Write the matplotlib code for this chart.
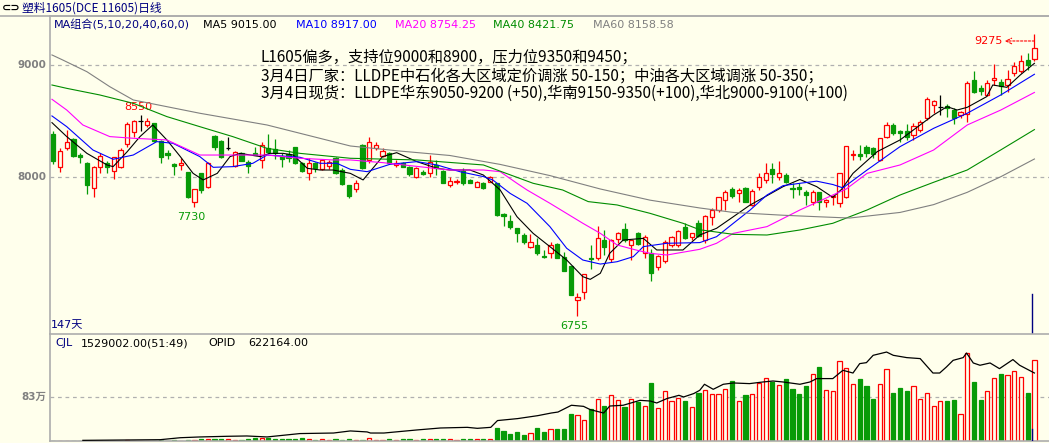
import numpy as np
import matplotlib.pyplot as plt
from matplotlib.lines import Line2D

plt.rcParams['font.family'] = ['DejaVu Sans', 'Noto Sans CJK SC']

# daily candles, oldest first
opens = [8383, 8090, 8260, 8338, 8195, 8126, 7899, 8090, 8126, 8048,
         8090, 8290, 8403, 8499, 8460, 8478, 8323, 8209, 8114, 8105,
         8039, 7771, 8030, 7908, 8365, 8320, 8254, 8099, 8209, 8132,
         8215, 8150, 8254, 8245, 8185, 8203, 8263, 8126, 8030, 8120,
         8066, 8096, 8165, 8060, 7923, 7890, 8284, 8150, 8260, 8186,
         8209, 8105, 8126, 8090, 7995, 8042, 8030, 8105, 8054, 7926,
         7950, 8051, 7971, 7911, 7947, 7956, 7941, 7663, 7603, 7538,
         7478, 7374, 7389, 7290, 7320, 7395, 7284, 7201, 6896, 6971,
         7275, 7269, 7433, 7263, 7439, 7532, 7389, 7493, 7320, 7314,
         7195, 7248, 7389, 7389, 7553, 7463, 7583, 7433, 7642, 7702,
         7791, 7887, 7851, 7896, 7747, 7911, 7970, 8069, 8001, 8015,
         7902, 7905, 7866, 7777, 7860, 7771, 7815, 7762, 7821, 8194,
         8203, 8269, 8254, 8150, 8359, 8463, 8412, 8412, 8374, 8418,
         8523, 8642, 8621, 8636, 8597, 8553, 8562, 8866, 8791, 8732,
         8866, 8851, 8821, 8926, 8949, 9045, 9051]
highs = [8412, 8260, 8418, 8345, 8215, 8135, 8096, 8209, 8144, 8180,
         8254, 8493, 8508, 8550, 8523, 8484, 8329, 8239, 8120, 8171,
         8039, 7890, 8036, 8135, 8374, 8329, 8359, 8230, 8224, 8150,
         8269, 8314, 8380, 8341, 8209, 8239, 8269, 8135, 8165, 8135,
         8159, 8150, 8174, 8075, 7930, 7971, 8290, 8359, 8314, 8254,
         8224, 8150, 8135, 8099, 8084, 8060, 8194, 8150, 8060, 8001,
         7980, 8081, 7977, 7962, 7953, 8007, 7947, 7672, 7657, 7545,
         7493, 7487, 7448, 7344, 7418, 7410, 7329, 7201, 6956, 7126,
         7389, 7559, 7523, 7442, 7508, 7589, 7433, 7508, 7478, 7350,
         7299, 7433, 7469, 7523, 7583, 7499, 7610, 7657, 7717, 7821,
         7881, 7911, 7896, 7905, 7890, 8030, 8120, 8120, 8141, 8030,
         7941, 7940, 7881, 7881, 7866, 7800, 7836, 8036, 8275, 8239,
         8284, 8284, 8269, 8344, 8493, 8478, 8418, 8469, 8478, 8508,
         8711, 8687, 8732, 8648, 8612, 8588, 8860, 8949, 8821, 8866,
         9009, 8872, 8955, 9030, 9090, 9105, 9275]
lows = [8114, 8039, 8239, 8180, 8126, 7845, 7816, 8036, 8030, 7977,
        8075, 8269, 8359, 8412, 8442, 8310, 8126, 8156, 8015, 8060,
        7810, 7730, 7854, 7900, 8239, 8165, 8239, 8090, 8144, 8030,
        8194, 8075, 8209, 8159, 8084, 8135, 8114, 8045, 7968, 8045,
        8060, 8072, 8024, 7926, 7809, 7866, 8072, 8120, 8239, 8180,
        8114, 8090, 8084, 8010, 7986, 8015, 8001, 8015, 7941, 7911,
        7935, 7926, 7941, 7905, 7890, 7950, 7650, 7559, 7529, 7418,
        7398, 7359, 7299, 7269, 7275, 7269, 7159, 6941, 6755, 6905,
        7171, 7254, 7299, 7233, 7404, 7418, 7254, 7389, 7269, 7069,
        7165, 7224, 7374, 7374, 7439, 7433, 7460, 7404, 7568, 7687,
        7702, 7807, 7777, 7770, 7740, 7881, 7941, 7941, 7971, 7941,
        7806, 7836, 7747, 7747, 7702, 7732, 7747, 7732, 7810, 8150,
        8150, 8180, 8165, 8144, 8344, 8374, 8314, 8329, 8329, 8403,
        8508, 8568, 8553, 8538, 8472, 8523, 8493, 8746, 8732, 8723,
        8821, 8732, 8761, 8902, 8931, 8955, 9039]
closes = [8144, 8230, 8311, 8189, 8174, 7926, 8087, 8186, 8084, 8174,
          8236, 8469, 8499, 8499, 8496, 8323, 8174, 8191, 8096, 8120,
          7821, 7887, 7881, 8126, 8269, 8180, 8254, 8224, 8144, 8096,
          8194, 8281, 8224, 8209, 8156, 8165, 8120, 8054, 8120, 8081,
          8150, 8132, 8030, 7932, 7830, 7947, 8081, 8314, 8281, 8233,
          8126, 8126, 8090, 8021, 8078, 8021, 8132, 8075, 7947, 7962,
          7959, 7947, 7947, 7956, 7896, 7995, 7657, 7648, 7553, 7493,
          7413, 7413, 7314, 7278, 7389, 7275, 7159, 6941, 6920, 7126,
          7260, 7448, 7368, 7433, 7493, 7433, 7433, 7395, 7463, 7135,
          7290, 7413, 7463, 7517, 7448, 7493, 7470, 7648, 7702, 7815,
          7866, 7830, 7881, 7777, 7875, 7999, 8030, 8021, 8036, 7956,
          7887, 7893, 7836, 7866, 7777, 7792, 7830, 8036, 8275, 8203,
          8188, 8215, 8203, 8344, 8463, 8394, 8394, 8359, 8454, 8487,
          8696, 8678, 8621, 8612, 8523, 8576, 8836, 8761, 8770, 8836,
          8881, 8812, 8872, 8994, 9033, 9000, 9149]

# volume, in 万 (10k lots)
volumes = [0.2, 0.2, 0.2, 0.2, 0.3, 0.3, 0.3, 0.3, 0.3, 0.3,
           0.3, 2.8, 0.5, 0.5, 0.5, 0.5, 1.3, 0.5, 1.3, 0.5,
           1.3, 1.3, 4.4, 4.4, 3.1, 3.1, 4.4, 1.3, 1.3, 3.1,
           5.6, 5.6, 6.3, 3.1, 3.1, 3.1, 4.4, 5.0, 3.1, 1.3,
           3.1, 1.3, 3.1, 1.3, 3.1, 1.3, 1.3, 6.3, 1.3, 1.3,
           3.1, 1.3, 3.1, 3.1, 1.3, 3.1, 4.4, 3.1, 4.4, 4.4,
           1.3, 3.1, 3.1, 3.1, 4.4, 4.4, 24.5, 18.9, 13.8, 17.5,
           11.9, 15.1, 23.9, 16.4, 23.4, 22.1, 22.1, 50.4, 49.8, 39.0,
           61.1, 80.0, 65.5, 86.2, 78.1, 63.6, 80.0, 73.6, 66.8, 109.4,
           63.0, 95.1, 76.2, 81.9, 74.9, 64.9, 90.5, 97.0, 88.1, 89.4,
           98.8, 112.6, 74.9, 86.2, 89.4, 110.2, 118.8, 111.3, 105.1, 116.4,
           97.5, 88.1, 103.2, 125.8, 139.0, 97.0, 95.1, 151.7, 138.4, 107.0,
           116.4, 103.2, 78.7, 107.0, 136.6, 90.0, 99.4, 93.8, 103.2, 80.0,
           90.0, 65.5, 76.2, 74.9, 76.8, 50.4, 166.0, 110.7, 76.8, 93.8,
           119.6, 126.4, 123.9, 132.8, 121.5, 90.0, 152.9002]

# moving averages (bar position, value)
ma5_x = [-0.2, 2.0, 5.0, 8.0, 8.9, 11.0, 12.9, 14.8, 16.9, 18.9, 20.8, 22.3,
         24.4, 26.3, 27.8, 30.8, 32.2, 34.2, 35.7, 37.8, 39.7, 41.6, 44.2,
         46.1, 49.0, 51.1, 54.1, 57.1, 59.0, 62.0, 64.0, 66.5, 69.0, 71.4,
         73.9, 76.4, 78.8, 79.9, 81.4, 82.8, 84.8, 87.8, 89.8, 93.7, 96.2,
         98.7, 101.2, 103.7, 106.2, 108.6, 111.1, 113.6, 116.0, 117.3, 119.0,
         122.6, 126.0, 131.0, 133.0, 134.5, 136.0, 138.9, 139.8, 141.9,
         143.9, 146.0]
ma5_y = [8484, 8359, 8209, 8105, 8090, 8224, 8359, 8463, 8329, 8180, 8030, 7971,
         8030, 8180, 8209, 8180, 8209, 8209, 8194, 8075, 8060, 8060, 8030,
         7971, 8180, 8215, 8135, 8075, 8060, 8060, 8015, 7881, 7642, 7493,
         7374, 7254, 7105, 7081, 7135, 7314, 7433, 7448, 7344, 7344, 7478,
         7538, 7642, 7747, 7830, 7911, 7975, 7911, 7815, 7887, 8030,
         8224, 8329, 8553, 8627, 8597, 8621, 8717, 8821, 8800,
         8911, 9015.00]
ma10_x = [-0.2, 2.0, 5.9, 8.9, 11.9, 15.4, 17.8, 21.8, 23.8, 26.7, 29.7, 31.8,
          36.7, 39.7, 42.2, 44.2, 46.7, 50.1, 54.1, 57.1, 60.5, 64.0, 65.4,
          68.0, 70.5, 73.9, 76.4, 78.8, 81.4, 83.9, 86.3, 87.8, 91.3, 96.2,
          98.7, 101.2, 103.7, 106.2, 108.6, 111.1, 113.6, 116.0, 117.5, 121.1,
          126.0, 131.0, 136.0, 141.0, 146.0]
ma10_y = [8544, 8448, 8239, 8156, 8194, 8314, 8299, 8180, 8084, 8090, 8120, 8194,
          8174, 8120, 8120, 8066, 8045, 8111, 8135, 8105, 8045, 8001, 7971,
          7850, 7762, 7553, 7359, 7254, 7218, 7239, 7284, 7374, 7404, 7410,
          7463, 7583, 7702, 7836, 7920, 7941, 7960, 7930, 7900, 8060,
          8269, 8433, 8568, 8732, 8917.00]
ma20_x = [-0.2, 2.0, 4.4, 8.4, 11.9, 16.9, 21.8, 26.7, 31.8, 36.7, 41.6, 44.2,
          49.0, 59.0, 64.0, 66.5, 69.0, 70.5, 73.9, 78.8, 81.4, 83.9, 86.3,
          88.8, 91.3, 96.2, 98.7, 101.2, 106.2, 111.1, 116.0, 118.0, 121.1,
          126.0, 131.0, 136.0, 141.0, 146.0]
ma20_y = [8693, 8597, 8463, 8359, 8344, 8329, 8194, 8194, 8194, 8165, 8150, 8150,
          8126, 8060, 8060, 8045, 7941, 7881, 7762, 7583, 7493, 7389, 7350,
          7314, 7299, 7350, 7404, 7493, 7553, 7702, 7836, 7890, 8030,
          8105, 8239, 8463, 8597, 8754.25]
ma40_x = [-0.2, 2.0, 6.9, 11.9, 16.9, 21.8, 26.7, 31.8, 36.7, 44.2, 54.1, 64.0,
          71.4, 75.8, 79.6, 83.9, 88.8, 93.7, 96.2, 101.2, 106.2, 111.1, 116.0,
          121.1, 126.0, 131.0, 136.0, 141.0, 146.0]
ma40_y = [8821, 8791, 8732, 8657, 8538, 8448, 8359, 8254, 8209, 8165, 8150, 8105,
          7941, 7881, 7777, 7747, 7672, 7583, 7525, 7484, 7478, 7523, 7583,
          7702, 7836, 7950, 8060, 8240, 8421.75]
ma60_x = [-0.2, 1.4, 5.0, 8.4, 11.9, 14.4, 21.8, 31.8, 44.2, 51.5, 59.0, 66.5,
          73.9, 81.4, 88.8, 96.2, 101.2, 108.6, 113.6, 118.5, 126.0, 131.0,
          136.0, 141.0, 146.0]
ma60_y = [9090, 9045, 8940, 8806, 8687, 8657, 8568, 8463, 8275, 8230, 8190, 8110,
          8010, 7890, 7790, 7720, 7680, 7655, 7642, 7630, 7680, 7750,
          7860, 8000, 8158.58]

# open interest, in 万
opid_x = [4.4, 15.9, 18.9, 21.8, 25.8, 28.8, 31.8, 36.7, 41.7, 44.2, 46.7, 47.2,
          49.2, 54.1, 57.6, 61.6, 63.1, 65.1, 66.1, 69.1, 72.1, 74.1, 75.1,
          77.1, 78.9, 79.9, 81.9, 82.8, 84.8, 87.3, 88.8, 89.8, 91.3, 93.1,
          93.8, 95.3, 96.2, 96.9, 98.2, 99.7, 101.2, 103.6, 105.6, 107.1,
          108.6, 111.1, 112.6, 113.6, 116.0, 117.5, 119.0, 120.0, 121.0,
          122.0, 124.0, 125.0, 127.0, 129.0, 130.9, 131.9, 132.9, 133.9,
          135.4, 135.9, 136.9, 137.9, 139.4, 140.8, 142.8, 143.8, 146.0]
opid_y = [0.6, 1.2, 3.0, 3.7, 4.3, 4.6, 3.7, 6.8, 7.3, 9.2, 8.3, 7.3,
          7.3, 10.1, 11.9, 12.5, 11.6, 12.5, 18.7, 20.5, 23.2, 25.6, 26.5,
          32.7, 31.7, 28.7, 25.6, 32.0, 32.7, 37.2, 36.6, 34.8, 38.8, 41.8,
          40.3, 43.4, 46.4, 51.9, 47.3, 51.9, 53.1, 52.5, 54.0, 54.9,
          54.0, 51.9, 54.0, 57.1, 57.1, 64.7, 62.2, 70.8, 71.7,
          78.4, 81.4, 78.4, 76.3, 75.4, 62.2, 62.2, 67.7, 73.8,
          76.3, 80.5, 71.4, 69.3, 71.4, 66.2, 74.5, 69.3, 62.2164]

ma_periods = [5, 10, 20, 40, 60]
cjl_last = 1529002.00
opid_last = 622164.00
high_label, low_label_1, low_label_2 = 8550, 7730, 6755

notes = ["L1605偏多，支持位9000和8900，压力位9350和9450；",
         "3月4日厂家：LLDPE中石化各大区域定价调涨 50-150；中油各大区域调涨 50-350；",
         "3月4日现货：LLDPE华东9050-9200 (+50),华南9150-9350(+100),华北9000-9100(+100)"]

BG = '#FFFFEC'
RED = '#FF0000'
GREEN = '#079B07'
NAVY = '#000080'
GRID = '#B0B0B0'
FRAME = '#ADADAD'

W, H = 1049, 443


def fx(px):
    return px / W


def fy(py):
    return 1 - py / H


opens = np.array(opens, float)
highs = np.array(highs, float)
lows = np.array(lows, float)
closes = np.array(closes, float)
volumes = np.array(volumes, float)
n = len(closes)
idx = np.arange(n)
up = closes > opens
down = closes < opens
flat = closes == opens

fig = plt.figure(figsize=(W / 100, H / 100), dpi=100, facecolor=BG)

# price panel
ax = fig.add_axes([fx(50), fy(334), fx(1049) - fx(50), fy(16) - fy(334)])
ax.set_facecolor(BG)
px_per_pt = 111.7 / 1000
ax.set_ylim(9000 - (334 - 65) / px_per_pt, 9000 + (65 - 16) / px_per_pt)
xlim = (-(53.3 - 50) / 6.72, (1049 - 53.3) / 6.72)
ax.set_xlim(*xlim)

for lvl in (9000, 8000):
    ax.axhline(lvl, color=GRID, lw=0.9, ls=(0, (3, 3)), zorder=1)

wick_cols = np.where(up, RED, np.where(down, GREEN, 'black'))
ax.vlines(idx, lows, highs, colors=wick_cols, lw=0.9, zorder=2)
ax.bar(idx[up], (closes - opens)[up], bottom=opens[up], width=0.62,
       facecolor=BG, edgecolor=RED, lw=0.9, zorder=3)
ax.bar(idx[down], (opens - closes)[down], bottom=closes[down], width=0.62,
       facecolor=GREEN, edgecolor=GREEN, lw=0.9, zorder=3)
ax.hlines(closes[flat], idx[flat] - 0.33, idx[flat] + 0.33, color='black',
          lw=0.9, zorder=3)

ma_cols = ['black', '#0000FF', '#FF00FF', '#008C00', '#808080']
ma_data = [(ma5_x, ma5_y), (ma10_x, ma10_y), (ma20_x, ma20_y),
           (ma40_x, ma40_y), (ma60_x, ma60_y)]
for (mx, my), c in zip(ma_data, ma_cols):
    ax.plot(mx, my, color=c, lw=0.8, zorder=4)

# high / low markers
i_hi = int(np.argmax(highs))
ax.annotate(f"{high_label}", xy=(13, high_label), xytext=(-2, 6),
            textcoords='offset points', ha='center', va='center',
            color=RED, fontsize=8)
ax.annotate(f"{low_label_1}", xy=(21, low_label_1), xytext=(-2, -7.5),
            textcoords='offset points', ha='center', va='center',
            color=GREEN, fontsize=8)
ax.annotate(f"{low_label_2}", xy=(78, low_label_2), xytext=(-2, -7.5),
            textcoords='offset points', ha='center', va='center',
            color=GREEN, fontsize=8)
ax.annotate('', xy=(141.6, highs[i_hi] - 60), xytext=(i_hi, highs[i_hi] - 60),
            arrowprops=dict(arrowstyle='->', color=RED, lw=0.8,
                            linestyle=(0, (2, 1.5)), shrinkA=0, shrinkB=0))
ax.text(141.3, highs[i_hi] - 60, f"{int(highs[i_hi])}", color=RED,
        fontsize=8, ha='right', va='center')

ax.plot([145.6, 145.6], [0, 0.126], color=NAVY, lw=1,
        transform=ax.get_xaxis_transform(), zorder=5)

ax.set_xticks([])
ax.set_yticks([])
for s in ('right', 'bottom'):
    ax.spines[s].set_visible(False)
for s in ('left', 'top'):
    ax.spines[s].set_color(FRAME)
    ax.spines[s].set_linewidth(1.2)

# volume panel
axv = fig.add_axes([fx(50), fy(441), fx(1049) - fx(50), fy(334) - fy(441)])
axv.set_facecolor(BG)
axv.set_xlim(*xlim)
axv.set_ylim(0, (441 - 334) * 1.8864)
axv.axhline(83, color=GRID, lw=0.9, ls=(0, (3, 3)), zorder=1)
vup = closes >= opens
axv.bar(idx[vup], volumes[vup], width=0.62, facecolor=BG, edgecolor=RED,
        lw=0.9, zorder=2)
axv.bar(idx[~vup], volumes[~vup], width=0.62, facecolor=GREEN,
        edgecolor=GREEN, lw=0.9, zorder=2)
axv.plot([145.6, 145.6], [0, 0.112], color=NAVY, lw=1,
         transform=axv.get_xaxis_transform(), zorder=5)
axv.set_xticks([])
axv.set_yticks([])
axv.spines['right'].set_visible(False)
for s in ('left', 'top', 'bottom'):
    axv.spines[s].set_color(FRAME)
    axv.spines[s].set_linewidth(1.2)

axo = axv.twinx()
axo.set_ylim(0, (441 - 334) * 0.915)
axo.plot(opid_x, opid_y, color='black', lw=0.9)
axo.set_yticks([])
axo.axis('off')

# header
fig.add_artist(Line2D([0, 1], [fy(15.7), fy(15.7)], color=FRAME, lw=1.2))
fig.text(fx(2), fy(8), '⊂⊃', fontsize=8, color='black', va='center',
         fontweight='bold')
fig.text(fx(22), fy(8), '塑料1605(DCE 11605)日线', fontsize=8.5, color=NAVY,
         va='center', family=['Noto Sans CJK SC', 'DejaVu Sans'])

ma_vals = [ma5_y[-1], ma10_y[-1], ma20_y[-1], ma40_y[-1], ma60_y[-1]]
fig.text(fx(54), fy(25), 'MA组合(' + ','.join(str(p) for p in ma_periods) + ',0)',
         fontsize=8, color=NAVY, va='center')
for xp, p, v, c in zip([203, 296, 395, 493, 593], ma_periods, ma_vals, ma_cols):
    fig.text(fx(xp), fy(25), f"MA{p} {v:.2f}", fontsize=8, color=c,
             va='center')

for yp, t in zip([56.7, 76, 93.3], notes):
    fig.text(fx(261), fy(yp), t, fontsize=11, color='black', va='center',
             family=['Noto Sans CJK SC', 'DejaVu Sans'])

for lvl in (9000, 8000):
    ypx = 65 + (9000 - lvl) * px_per_pt
    fig.text(fx(46), fy(ypx), f"{lvl}", fontsize=7.5, color='#808080',
             ha='right', va='center', fontweight='bold')
fig.text(fx(46), fy(396.7), '83万', fontsize=7.5, color='#808080',
         ha='right', va='center', fontweight='bold')
fig.text(fx(51), fy(325), f"{n}天", fontsize=8, color=NAVY, va='center')

fig.text(fx(55), fy(343.5), 'CJL', fontsize=8, color=NAVY, va='center')
fig.text(fx(81), fy(343.5), f"{cjl_last:.2f}(51:49)", fontsize=8,
         color='black', va='center')
fig.text(fx(208), fy(343.5), 'OPID', fontsize=8, color='black', va='center')
fig.text(fx(248), fy(343.5), f"{opid_last:.2f}", fontsize=8, color='black',
         va='center')

fig.savefig('out.png', dpi=100, facecolor=BG)
